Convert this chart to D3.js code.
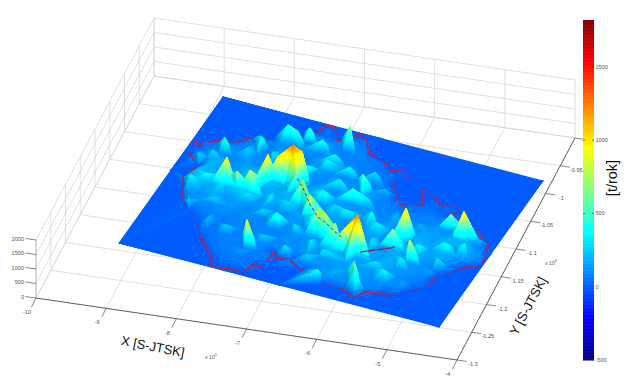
<!DOCTYPE html>
<html>
<head>
<meta charset="utf-8">
<style>html,body{margin:0;padding:0;background:#fff}svg{display:block}text{font-family:"Liberation Sans",Arial,sans-serif}</style>
<script src="https://cdn.jsdelivr.net/npm/d3@7"></script>
</head>
<body>
<svg id="chart" width="627" height="384"></svg>
<script>
// ---------- axis data ----------
const xTicks = [-10,-9,-8,-7,-6,-5,-4];
const yTicks = [-1.3,-1.25,-1.2,-1.15,-1.1,-1.05,-1,-0.95,-0.9];
const yTickLabels = ["-1.3","-1.25","-1.2","-1.15","-1.1","-1.05","-1","-0.95",""];
const zTicks = [0,500,1000,1500,2000];
const barTicks = [-500,0,500,1000,1500];
const barDomain = [-500,1820];

// ---------- surface data: east / north are % of the modelled rectangle, values in t/rok ----------
const plateEast  = [0,100,100,0,50,50,0,100];
const plateNorth = [0,0,100,100,0,100,50,50];

const borderEast = [0.3,2.8,3.4,8.1,12.6,14.8,17.4,21.2,24,28.3,31.5,32.5,35.1,38.1,40.6,42.3,46,48.5,55,57.7,
  61.6,63.7,60.9,64.6,65.7,68.9,72.7,70.1,74.8,77.4,82.7,83.4,81.3,86.4,92.4,97.6,99,99.5,96.1,93.3,
  89.8,89.4,86.2,81.9,77.6,74,71.9,67.8,63.8,60.8,55.9,52.8,48.2,44.4,42.4,42.4,39.4,38.2,33.9,32,
  28.1,27.3,20.2,17.5,13.1,8.5,7,4.5,6.3,1.8,0.3];
const borderNorth = [72.1,67.4,70.4,75.2,75.7,80.4,82,82.1,87.8,89.6,93.5,99.5,99.6,92.4,92.5,99,97,90.2,86.5,83.1,
  85.4,81.9,76.1,68.6,65.2,64.9,67.8,76.6,73.9,70.5,71.6,68.5,65.3,64.1,60.7,54.7,47.3,41.3,38.9,33.9,
  27.7,21.3,17.4,11.5,10.3,9,3.8,6.8,6.6,6.3,11.6,11.8,16.1,15.2,17.5,8,7.6,1.5,2.4,0.4,
  1.1,5.4,15.8,21,28.1,34.3,40.3,47.8,55.7,62.7,72.1];

const peakEast  = [18.1,21.9,25.7,28.7,31.4,35.3,37.7,37.4,41.5,
  46.4,50.9,53.9,58,61.4,64.5,65.5,69,70.7,73.8,
  75.4,80.9,85.7,91,89.5,34.8,38.6,43,55,54.5];
const peakNorth = [48.1,46.2,46.9,54.9,56.4,58.7,60,55.1,49.2,
  41,34.7,33.1,29.2,26.4,24.7,28.1,13.7,9.3,36.3,
  44.1,30.8,55.5,51.7,50.8,15.9,33.1,89.8,65.3,57.4];
const peakValue = [950,700,800,1000,950,1300,1100,650,800,
  850,850,800,800,800,700,1300,600,500,700,
  1050,800,600,1000,600,900,450,650,600,500];

const moundEast  = [10.8,19.8,25.4,28.9,31.7,36.8,42.5,48.8,41.3,46.2,
  56,58.2,63.2,66.2,56.9,59.5,78.9,76.6,81.1,88.4,
  88.2,93,95.1,67.5,83,8,11.5,17,5.4,9.2,
  17.4,25.3,11,17.7,26.2,32.7,26,19.6,37.7,44.8,
  34.2,46,52.8,63.9,72.8,87.9,68.6,77,61.2,36.8,
  48.4,51.6,55.4,37.5,33,51.6,60.1];
const moundNorth = [68.6,75.7,84.5,83.1,86,82.8,77.1,71.9,73,54,
  74,57.5,48.7,44.3,21.1,8.2,27.6,18.1,37.8,33.8,
  41.9,44.6,52.7,35.4,17.6,43.7,47,44.7,59.3,62.1,
  69.6,70,31.6,36.1,42.5,44.8,21.9,24.3,21.7,31.3,
  11.4,18.2,16.7,14.2,22.1,28.6,54.5,52.5,67.4,65.7,
  63.5,48.9,46.9,44.1,36.1,24.9,20.9];
const moundValue = [450,400,500,450,500,400,350,350,350,400,
  300,350,400,350,300,350,350,350,350,300,
  400,350,200,300,150,350,350,300,250,300,
  250,300,200,250,300,300,250,200,250,300,
  150,300,250,200,300,150,200,200,200,400,
  350,300,350,300,250,300,250];

// high ground between the tall peaks and along the ridge
const saddleEast  = [20,24,27,30,44,48.5,56,60,63];
const saddleNorth = [47,46.5,50,55.5,45,38,31,27.8,25.5];
const saddleValue = [500,450,550,650,420,440,440,440,480];

// background emissions field, rows run north (100) to south (0) in steps of 5, columns east 0..100 in steps of 4
const fieldNorth = d3.range(100,-1,-5);
const fieldEast = d3.range(0,101,4);
const fieldRows = [
 [0,0,0,0,0,0,0,0,0,0,0,0,0,0,0,0,0,0,0,0,0,0,0,0,0,0],
 [0,0,0,0,0,0,0,0,50,40,0,50,0,0,0,0,0,0,0,0,0,0,0,0,0,0],
 [0,0,0,0,0,0,0,70,100,70,80,110,60,0,0,0,0,0,0,0,0,0,0,0,0,0],
 [0,0,0,0,0,0,60,90,110,130,80,110,70,50,0,0,0,0,0,0,0,0,0,0,0,0],
 [0,0,0,0,50,80,120,90,140,90,120,70,100,70,50,0,0,0,0,0,0,0,0,0,0,0],
 [0,0,0,60,100,80,130,100,90,150,90,140,90,80,70,50,0,0,0,0,0,0,0,0,0,0],
 [0,60,80,120,90,130,90,150,110,90,160,120,90,130,80,70,50,0,0,0,0,0,0,0,0,0],
 [0,70,110,90,150,90,140,100,180,130,100,180,120,90,150,90,70,40,40,0,30,0,0,0,0,0],
 [0,90,140,190,110,160,190,130,210,160,120,170,110,190,130,90,80,60,70,90,80,100,70,0,0,0],
 [0,110,210,140,170,230,150,240,180,140,200,130,170,120,150,100,90,110,80,100,130,110,150,90,50,0],
 [0,170,230,180,250,170,240,190,160,210,140,180,130,160,120,140,100,130,150,120,170,140,190,160,90,0],
 [0,150,240,190,220,260,190,160,180,140,170,130,170,150,120,170,140,170,130,190,150,210,180,200,110,0],
 [0,0,180,140,180,130,170,120,150,110,130,170,120,150,140,110,150,130,180,140,210,160,220,140,80,0],
 [0,0,100,130,110,140,100,120,90,110,140,110,160,130,150,120,160,140,190,130,180,150,110,70,0,0],
 [0,0,0,0,80,100,80,110,80,120,90,130,120,160,130,170,130,180,140,200,160,120,80,0,0,0],
 [0,0,0,0,0,70,90,70,100,80,110,100,150,120,170,150,180,140,190,150,130,100,70,0,0,0],
 [0,0,0,0,0,60,80,90,70,100,90,130,100,140,160,130,170,150,130,160,110,80,0,0,0,0],
 [0,0,0,0,0,0,70,80,70,90,80,110,100,120,130,150,140,160,110,130,100,60,0,0,0,0],
 [0,0,0,0,0,0,0,70,90,70,50,0,80,100,100,130,110,130,100,70,0,0,0,0,0,0],
 [0,0,0,0,0,0,0,0,50,70,40,0,30,0,50,70,80,100,70,0,0,0,0,0,0,0],
 [0,0,0,0,0,0,0,0,0,0,0,0,0,0,0,0,0,0,0,0,0,0,0,0,0,0]
];

const ridgeEast  = [38.5,41.5,46.4,50.9,53.9,58,61.4];
const ridgeNorth = [53,49.2,41,34.7,33.1,29.2,26.4];
const ridgeValue = [600,560,540,560,540,540,560];
const roadEast  = [65.2,68.7,71.1,73.4];
const roadNorth = [31.3,34.8,36.8,39.5];
const roadValue = [0,0,0,0];

// ---------- scales ----------
const W = 627, H = 384;
const svg = d3.select("#chart").attr("viewBox",[0,0,W,H]);

// the axes cube
const origin = [36,298];
const xToPx = d3.scaleLinear([-10,-4],[0,421]), xToPy = d3.scaleLinear([-10,-4],[0,62]);
const yToPx = d3.scaleLinear([-1.3,-0.9],[0,118]), yToPy = d3.scaleLinear([-1.3,-0.9],[0,-222]);
const zToPy = d3.scaleLinear([0,2000],[0,-58]);
const cube = (x,y,z) => [origin[0]+xToPx(x)+yToPx(y), origin[1]+xToPy(x)+yToPy(y)+zToPy(z)];

// the plate (its own projection, as in the source picture)
const plateOrigin = [119,243];
const eToPx = d3.scaleLinear([0,100],[0,320]), eToPy = d3.scaleLinear([0,100],[0,84]);
const nToPx = d3.scaleLinear([0,100],[0,104]), nToPy = d3.scaleLinear([0,100],[0,-146]);
const vToPy = d3.scaleLinear([0,2000],[0,-64]);
const ground = (e,n) => plateOrigin[1]+eToPy(e)+nToPy(n);
const plate = (e,n,v) => [plateOrigin[0]+eToPx(e)+nToPx(n), ground(e,n)+vToPy(v)];

// jet colour map over the colour-bar range
const span = barDomain[1]-barDomain[0];
const jet = d3.scaleLinear()
  .domain([0,1/8,3/8,5/8,7/8,1].map(t=>barDomain[0]+t*span))
  .range(["#000080","#0000ff","#00ffff","#ffff00","#ff0000","#800000"])
  .clamp(true);

// ---------- defs ----------
const defs = svg.append("defs");
defs.append("filter").attr("id","soft").attr("x","-5%").attr("y","-5%").attr("width","110%").attr("height","110%")
  .append("feGaussianBlur").attr("stdDeviation",0.55);
defs.append("filter").attr("id","soft2").attr("x","-5%").attr("y","-5%").attr("width","110%").attr("height","110%")
  .append("feGaussianBlur").attr("stdDeviation",0.3);

// ---------- grid ----------
const line2 = (a,b)=>`M${a[0]},${a[1]}L${b[0]},${b[1]}`;
const gridSegs = [];
xTicks.forEach(x=>{
  gridSegs.push([cube(x,-0.9,0),cube(x,-0.9,2000)]);
  gridSegs.push([cube(x,-1.3,0),cube(x,-0.9,0)]);
});
yTicks.forEach(y=>{
  gridSegs.push([cube(-10,y,0),cube(-10,y,2000)]);
  gridSegs.push([cube(-10,y,0),cube(-4,y,0)]);
});
zTicks.forEach(z=>{
  gridSegs.push([cube(-10,-1.3,z),cube(-10,-0.9,z)]);
  gridSegs.push([cube(-10,-0.9,z),cube(-4,-0.9,z)]);
});
const axesG = svg.append("g").attr("filter","url(#soft2)");
axesG.append("g").selectAll("path").data(gridSegs).join("path")
  .attr("d",d=>line2(d[0],d[1])).attr("stroke","#d8d8d8").attr("stroke-width",0.8).attr("fill","none");

// axis lines
const axisSegs = [
  [cube(-10,-1.3,0),cube(-4,-1.3,0)],
  [cube(-4,-1.3,0),cube(-4,-0.9,0)],
  [cube(-10,-1.3,0),cube(-10,-1.3,2000)]
];
axesG.append("g").selectAll("path").data(axisSegs).join("path")
  .attr("d",d=>line2(d[0],d[1])).attr("stroke",(d,i)=>i==2?"#bbb":"#555").attr("stroke-width",0.9).attr("fill","none");

// ticks
const tickColor="#555";
axesG.append("g").selectAll("path").data(xTicks).join("path")
  .attr("d",x=>{const a=cube(x,-1.3,0);return line2(a,[a[0]-4.5,a[1]+9]);}).attr("stroke",tickColor).attr("stroke-width",0.7);
axesG.append("g").selectAll("path").data(yTicks).join("path")
  .attr("d",y=>{const a=cube(-4,y,0);return line2(a,[a[0]+9.5,a[1]+1.4]);}).attr("stroke",tickColor).attr("stroke-width",0.7);
axesG.append("g").selectAll("path").data(zTicks).join("path")
  .attr("d",z=>{const a=cube(-10,-1.3,z);return line2(a,[a[0]-10.5,a[1]-1.5]);}).attr("stroke",tickColor).attr("stroke-width",0.7);

// tick labels
const lab = {fontSize:5.6,color:"#555"};
const tg = svg.append("g").attr("fill",lab.color).attr("font-size",lab.fontSize);
tg.selectAll("text.x").data(xTicks).join("text").attr("class","x")
  .attr("x",x=>cube(x,-1.3,0)[0]-9).attr("y",x=>cube(x,-1.3,0)[1]+16).attr("text-anchor","middle").text(d=>d);
tg.selectAll("text.y").data(yTicks).join("text").attr("class","y")
  .attr("x",y=>cube(-4,y,0)[0]+16).attr("y",y=>cube(-4,y,0)[1]+6).attr("text-anchor","middle").text((d,i)=>yTickLabels[i]);
tg.selectAll("text.z").data(zTicks).join("text").attr("class","z")
  .attr("x",24).attr("y",z=>cube(-10,-1.3,z)[1]+0.5).attr("text-anchor","end").text(d=>d);

function expLabel(x,y,exp){
  const t=tg.append("text").attr("x",x).attr("y",y).attr("font-size",5.2);
  t.append("tspan").text("x 10");
  t.append("tspan").attr("dy",-3.5).attr("font-size",3.8).text(exp);
}
expLabel(205,359,"5");
expLabel(545,265,"6");

svg.append("text").attr("transform","translate(152,351) rotate(11)").attr("text-anchor","middle")
  .attr("font-size",13).attr("fill","#111").text("X [S-JTSK]");
svg.append("text").attr("transform","translate(532,308) rotate(-62)").attr("text-anchor","middle")
  .attr("font-size",13).attr("fill","#111").text("Y [S-JTSK]");
svg.append("text").attr("transform","translate(617,178) rotate(-90)").attr("text-anchor","middle")
  .attr("font-size",14.5).attr("fill","#111").text("[t/rok]");

// ---------- surface ----------
const borderPoly = borderEast.map((e,i)=>[e,borderNorth[i]]);
const sites = [];
plateEast.forEach((e,i)=>sites.push({e,n:plateNorth[i],v:0}));
borderEast.slice(0,-1).forEach((e,i)=>sites.push({e,n:borderNorth[i],v:0}));
fieldRows.forEach((row,r)=>row.forEach((v,c)=>{
  const e=fieldEast[c]+(r%2?2:0), n=fieldNorth[r];
  if(d3.polygonContains(borderPoly,[e,n])) sites.push({e,n,v:Math.max(v,40)});
}));
peakEast.forEach((e,i)=>sites.push({e,n:peakNorth[i],v:peakValue[i]}));
moundEast.forEach((e,i)=>sites.push({e,n:moundNorth[i],v:moundValue[i]}));
saddleEast.forEach((e,i)=>sites.push({e,n:saddleNorth[i],v:saddleValue[i]}));

const del = d3.Delaunay.from(sites,d=>d.e,d=>d.n);
const items = [];
const tri = del.triangles;
const clampS = d3.scaleLinear([-1,1],[-1,1]).clamp(true);
for(let t=0;t<tri.length;t+=3){
  const a=sites[tri[t]],b=sites[tri[t+1]],c=sites[tri[t+2]];
  const range=Math.max(a.v,b.v,c.v)-Math.min(a.v,b.v,c.v);
  const k=Math.max(1,Math.min(10,Math.ceil(range/40)));
  // facet gradient for a light from the upper left
  const det=(b.e-a.e)*(c.n-a.n)-(c.e-a.e)*(b.n-a.n);
  const gE=((b.v-a.v)*(c.n-a.n)-(c.v-a.v)*(b.n-a.n))/(det||1);
  const gN=((c.v-a.v)*(b.e-a.e)-(b.v-a.v)*(c.e-a.e))/(det||1);
  const shade=1+0.14*clampS((-gE+0.4*gN)/100);
  const at=(i,j)=>({e:a.e+(b.e-a.e)*i/k+(c.e-a.e)*j/k,n:a.n+(b.n-a.n)*i/k+(c.n-a.n)*j/k,v:a.v+(b.v-a.v)*i/k+(c.v-a.v)*j/k});
  const push=(p,q,r)=>{
    const pts=[p,q,r].map(o=>plate(o.e,o.n,o.v));
    const col=d3.rgb(jet((p.v+q.v+r.v)/3));
    const f=d3.rgb(Math.min(255,col.r*shade),Math.min(255,col.g*shade),Math.min(255,col.b*shade)).formatHex();
    items.push({key:ground((p.e+q.e+r.e)/3,(p.n+q.n+r.n)/3),
      d:`M${pts[0][0].toFixed(1)},${pts[0][1].toFixed(1)}L${pts[1][0].toFixed(1)},${pts[1][1].toFixed(1)}L${pts[2][0].toFixed(1)},${pts[2][1].toFixed(1)}Z`,
      fill:f,stroke:f,sw:0.8,crisp:true});
  };
  for(let i=0;i<k;i++)for(let j=0;j<k-i;j++){
    push(at(i,j),at(i+1,j),at(i,j+1));
    if(i+j+1<k)push(at(i+1,j),at(i+1,j+1),at(i,j+1));
  }
}
// border drawn in depth order so that peaks can hide it
for(let i=0;i<borderEast.length-1;i++){
  const p=plate(borderEast[i],borderNorth[i],0),q=plate(borderEast[i+1],borderNorth[i+1],0);
  items.push({key:ground((borderEast[i]+borderEast[i+1])/2,(borderNorth[i]+borderNorth[i+1])/2)+3,
    d:line2(p,q),fill:"none",stroke:"#b5234f",sw:1.8,crisp:false});
}
items.sort((a,b)=>a.key-b.key);
const surfaceG = svg.append("g").attr("filter","url(#soft)");
// flat underlay of the whole plate at zero level
const plateCorners = [0,1,2,3].map(i=>plate(plateEast[i],plateNorth[i],0));
surfaceG.append("path").attr("d",d3.line()(plateCorners)+"Z").attr("fill",jet(0));
surfaceG.selectAll("path.cell").data(items).join("path").attr("class","cell")
  .attr("d",d=>d.d).attr("fill",d=>d.fill).attr("stroke",d=>d.stroke).attr("stroke-width",d=>d.sw)
  .attr("stroke-linecap","round").attr("shape-rendering",d=>d.crisp?"crispEdges":"auto");

// overlaid lines
const ln = d3.line();
const ridgePts = ridgeEast.map((e,i)=>plate(e,ridgeNorth[i],ridgeValue[i]));
surfaceG.append("path").attr("d",ln(ridgePts)).attr("fill","none").attr("stroke","#8a2a3a").attr("stroke-width",1).attr("stroke-dasharray","3 2.5");
const roadPts = roadEast.map((e,i)=>plate(e,roadNorth[i],roadValue[i]));
surfaceG.append("path").attr("d",ln(roadPts)).attr("fill","none").attr("stroke","#b5234f").attr("stroke-width",1.3);
surfaceG.append("path").attr("d",ln(roadPts)).attr("fill","none").attr("stroke","#3a2a20").attr("stroke-width",0.5).attr("stroke-dasharray","5 4");

// ---------- colour bar ----------
const barY = d3.scaleLinear(barDomain,[360,20]);
const barVals = d3.range(barDomain[0],barDomain[1],4);
const barG = svg.append("g").attr("filter","url(#soft2)");
barG.selectAll("rect").data(barVals).join("rect")
  .attr("x",583).attr("width",11)
  .attr("y",d=>barY(d+4)).attr("height",d=>barY(d)-barY(d+4)+0.5)
  .attr("fill",d=>jet(d+2));
barG.append("g").selectAll("path").data(barTicks).join("path")
  .attr("d",v=>`M583,${barY(v)}h2M592,${barY(v)}h2`).attr("stroke","#333").attr("stroke-width",0.6);
tg.selectAll("text.b").data(barTicks).join("text").attr("class","b")
  .attr("x",595.5).attr("y",v=>barY(v)+2).text(d=>d);
</script>
</body>
</html>
